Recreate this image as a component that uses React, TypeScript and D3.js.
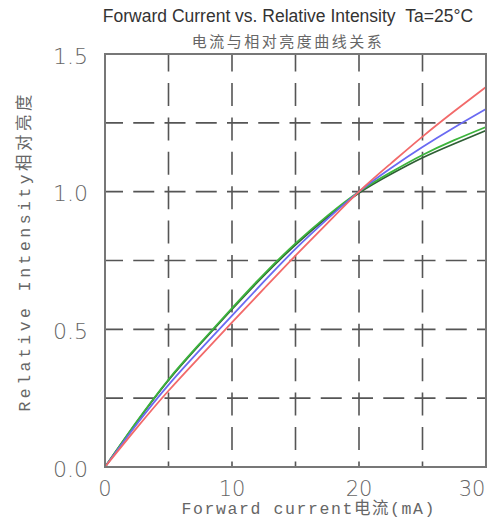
import React from "react";
import * as d3 from "d3";

const currents = [0, 2.5, 5, 7.5, 10, 12.5, 15, 17.5, 20, 22.5, 25, 27.5, 30];
const redSeries = [0, 0.142, 0.277, 0.402, 0.525, 0.647, 0.768, 0.885, 1.0, 1.102, 1.2, 1.292, 1.38];
const blueSeries = [0, 0.155, 0.298, 0.426, 0.55, 0.673, 0.792, 0.9, 1.0, 1.085, 1.162, 1.233, 1.3];
const greenSeries = [0, 0.165, 0.318, 0.45, 0.577, 0.7, 0.812, 0.912, 1.0, 1.07, 1.133, 1.187, 1.235];
const darkSeries = [0, 0.163, 0.315, 0.447, 0.573, 0.695, 0.807, 0.907, 0.995, 1.063, 1.123, 1.174, 1.222];

const xTicks = [0, 10, 20, 30];
const xGrid = [5, 10, 15, 20, 25];
const yTicks = [0, 0.5, 1.0, 1.5];
const yGrid = [0.25, 0.5, 0.75, 1.0, 1.25];

const series = [
  { values: darkSeries, color: "#2f5f35" },
  { values: greenSeries, color: "#3cb43c" },
  { values: blueSeries, color: "#6a6af2" },
  { values: redSeries, color: "#f26a6a" },
];

export default function App() {
  const W = 492;
  const H = 523;
  const left = 105, right = 486, top = 54, bottom = 467;
  const x = d3.scaleLinear().domain([0, 30]).range([left, right]);
  const y = d3.scaleLinear().domain([0, 1.5]).range([bottom, top]);
  const line = d3
    .line<number>()
    .x((_, i) => x(currents[i]))
    .y((d) => y(d))
    .curve(d3.curveNatural);

  const gridColor = "#555";
  const numFont = "'DejaVu Sans', sans-serif";
  const monoFont = "'Liberation Mono', 'DejaVu Sans Mono', 'Noto Sans CJK SC', monospace";

  return (
    <svg width={W} height={H} style={{ position: "absolute", left: 0, top: 0, background: "#fff" }}>
      <text x={288} y={22} textAnchor="middle" fontFamily="'Liberation Sans', Arial, sans-serif" fontSize={17.5} fill="#333">
        {"Forward Current vs. Relative Intensity\u00A0\u00A0Ta=25°C"}
      </text>
      <text x={288} y={47} textAnchor="middle" fontFamily="'Noto Sans CJK SC', sans-serif" fontSize={15} letterSpacing={2.5} fill="#666">
        电流与相对亮度曲线关系
      </text>

      {xGrid.map((v) => (
        <line key={"xg" + v} x1={x(v)} x2={x(v)} y1={top} y2={bottom} stroke={gridColor} strokeWidth={1.6}
          strokeDasharray="23 11.4" strokeDashoffset={-29} />
      ))}
      {yGrid.map((v) => (
        <line key={"yg" + v} x1={left} x2={right} y1={y(v)} y2={y(v)} stroke={gridColor} strokeWidth={1.6}
          strokeDasharray="21 10.25" strokeDashoffset={3} />
      ))}

      {series.map((s, i) => (
        <path key={i} d={line(s.values) || ""} fill="none" stroke={s.color} strokeWidth={1.8} />
      ))}

      <rect x={left} y={top} width={right - left} height={bottom - top} fill="none" stroke="#777" strokeWidth={2} />

      {yTicks.map((v) => (
        <text key={"yt" + v} x={88} y={y(v) + 2} textAnchor="end" dominantBaseline="central" fontFamily={numFont}
          fontWeight={200} fontSize={22} fill="#666">
          {v.toFixed(1)}
        </text>
      ))}
      {xTicks.map((v) => (
        <text key={"xt" + v} x={v === 30 ? x(v) - 14 : x(v)} y={496} textAnchor="middle" fontFamily={numFont}
          fontWeight={200} fontSize={21} fill="#666">
          {v}
        </text>
      ))}

      <text x={308} y={514} textAnchor="middle" fontFamily={monoFont} fontSize={16.5} fill="#666"
        textLength={253} lengthAdjust="spacing">
        Forward current电流(mA)
      </text>
      <text transform="translate(30,253) rotate(-90)" textAnchor="middle" fontFamily={monoFont} fontSize={16.5} fill="#666"
        textLength={317} lengthAdjust="spacing">
        Relative Intensity相对亮度
      </text>
    </svg>
  );
}
